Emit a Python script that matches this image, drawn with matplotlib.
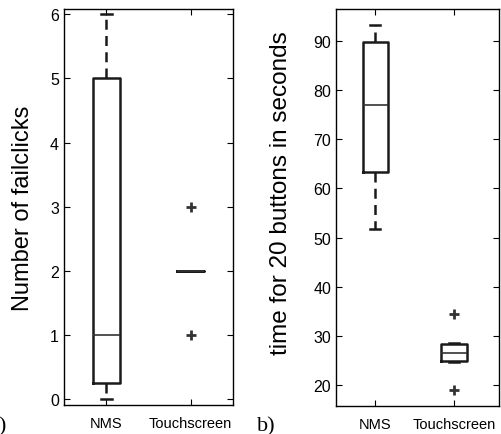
import matplotlib.pyplot as plt

# box statistics
groups = ['NMS', 'Touchscreen']

clicks_whislo = [0, 2]
clicks_q1 = [0.25, 2]
clicks_med = [1, 2]
clicks_q3 = [5, 2]
clicks_whishi = [6, 2]
clicks_fliers = [[], [1, 3]]

time_whislo = [51.7, 24.7]
time_q1 = [63.4, 24.8]
time_med = [77.0, 26.5]
time_q3 = [89.7, 28.3]
time_whishi = [93.2, 28.5]
time_fliers = [[], [19, 34.5]]

sans = 'Liberation Sans'


def make_stats(lo, q1, med, q3, hi, fl):
    out = []
    for i in range(len(lo)):
        out.append(dict(whislo=lo[i], q1=q1[i], med=med[i], q3=q3[i],
                        whishi=hi[i], fliers=fl[i]))
    return out


def draw(ax, stats):
    ax.bxp(stats, positions=[1, 2], widths=0.32, capwidths=0.13, showfliers=True,
           boxprops=dict(color='#1a1a1a', lw=1.8),
           whiskerprops=dict(color='#1a1a1a', lw=1.8, ls=(0, (4, 2.5))),
           capprops=dict(color='#1a1a1a', lw=1.8),
           medianprops=dict(color='#333333', lw=1.2),
           flierprops=dict(marker='+', markeredgecolor='#333333', ms=7, mew=2))
    ax.set_xticks([1, 2])
    ax.set_xticklabels(groups, fontsize=10.5, family=sans)
    ax.tick_params(direction='in', top=True, right=True, length=4, width=0.8)
    ax.tick_params(axis='x', pad=8)
    for s in ax.spines.values():
        s.set_linewidth(1.0)


def style_yticks(ax):
    for lab in ax.get_yticklabels():
        lab.set_family(sans)
        lab.set_fontsize(11.5)


fig = plt.figure(figsize=(5.01, 4.35), dpi=100)

ax1 = fig.add_axes([0.1277, 0.0667, 0.337, 0.910])
draw(ax1, make_stats(clicks_whislo, clicks_q1, clicks_med, clicks_q3, clicks_whishi, clicks_fliers))
ax1.set_xlim(0.5, 2.5)
ax1.set_ylim(-0.09, 6.08)
ax1.set_yticks(range(0, 7))
style_yticks(ax1)
ax1.set_ylabel('Number of failclicks', fontsize=17, family=sans)
ax1.yaxis.set_label_coords(-0.175, 0.5)

ax2 = fig.add_axes([0.6707, 0.064, 0.325, 0.913])
draw(ax2, make_stats(time_whislo, time_q1, time_med, time_q3, time_whishi, time_fliers))
ax2.set_xlim(0.5, 2.57)
ax2.set_ylim(15.7, 96.5)
ax2.set_yticks(range(20, 91, 10))
style_yticks(ax2)
ax2.set_ylabel('time for 20 buttons in seconds', fontsize=17.5, family=sans)
ax2.yaxis.set_label_coords(-0.27, 0.54)

fig.text(-0.022, 0.008, 'a)', fontsize=16, family='Liberation Serif')
fig.text(0.513, 0.008, 'b)', fontsize=16, family='Liberation Serif')

plt.savefig('out.png', dpi=100)
